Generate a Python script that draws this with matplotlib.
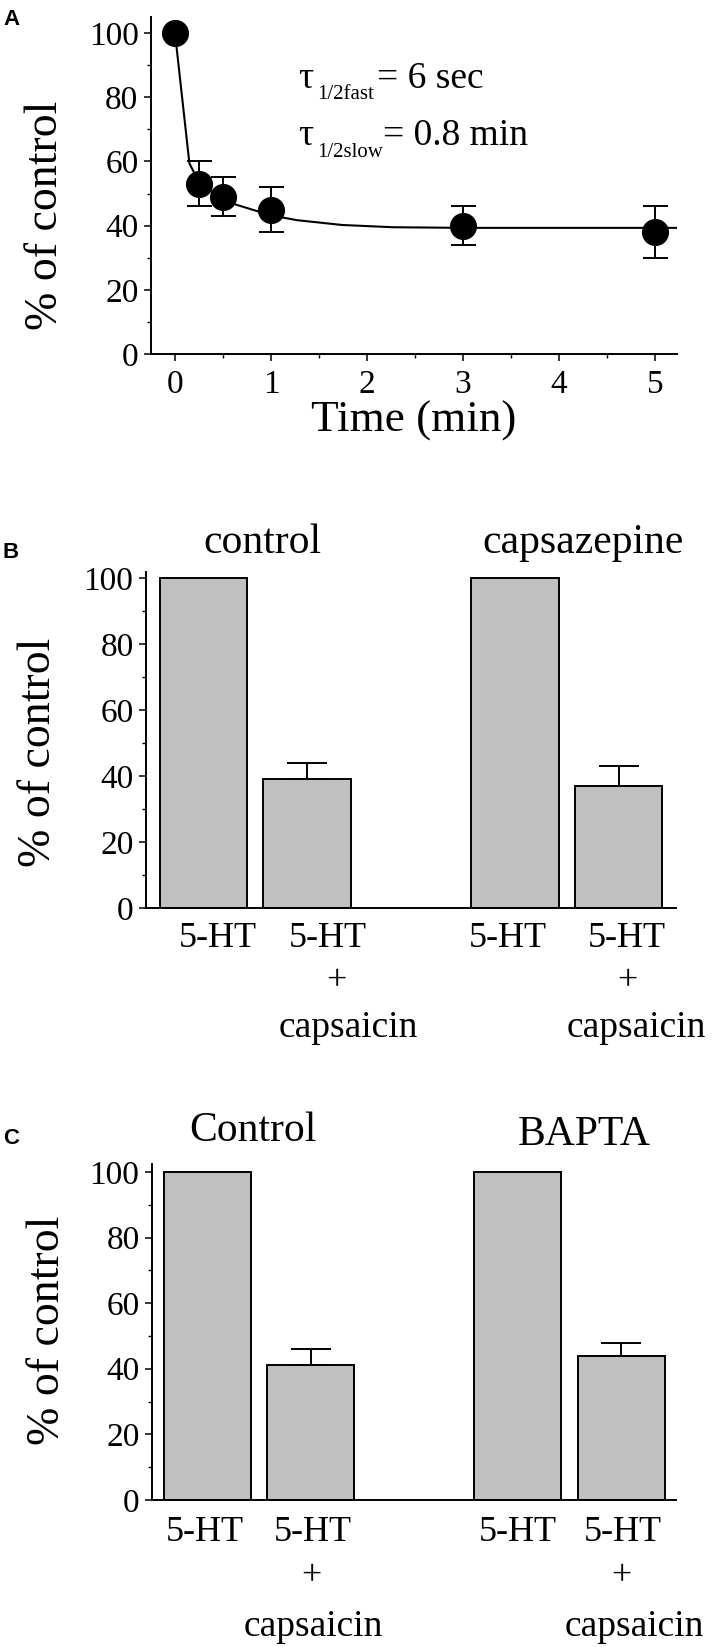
import matplotlib.pyplot as plt
from matplotlib.ticker import MultipleLocator

plt.rcParams['font.family'] = ['Liberation Serif', 'DejaVu Serif']

# ---- panel A: time course ----
time_min = [0, 0.25, 0.5, 1, 3, 5]
resp = [100, 53, 49, 45, 40, 38]
resp_err = [0, 7, 6, 7, 6, 8]
# fitted curve
fit_t = [0, 0.15, 0.25, 0.5, 0.65, 1.0, 1.27, 1.74, 2.27, 3, 4, 5, 5.23]
fit_y = [100, 59.4, 53.5, 48.0, 46.4, 43.2, 41.7, 40.2, 39.5, 39.3, 39.3, 39.3, 39.3]

# ---- panels B and C: bars ----
bar_pos = [0, 1, 3, 4]
b_vals = [100, 39, 100, 37]
b_err = [0, 5, 0, 6]
b_groups = ['control', 'capsazepine']
c_vals = [100, 41, 100, 44]
c_err = [0, 5, 0, 4]
c_groups = ['Control', 'BAPTA']

W, H = 713, 1647
fig = plt.figure(figsize=(W / 100, H / 100), dpi=100)


def px_axes(l, t, r, b):
    return fig.add_axes([l / W, 1 - b / H, (r - l) / W, (b - t) / H])


def style(ax, lab_size):
    for s in ['top', 'right']:
        ax.spines[s].set_visible(False)
    for s in ['left', 'bottom']:
        ax.spines[s].set_linewidth(1.4)
    ax.yaxis.set_major_locator(MultipleLocator(20))
    ax.yaxis.set_minor_locator(MultipleLocator(10))
    ax.tick_params(which='major', direction='out', length=5, width=1.1,
                   labelsize=24, pad=4)
    ax.tick_params(which='minor', direction='out', length=3, width=1.0)
    ax.set_ylabel('% of control', fontsize=lab_size, va='baseline')


# panel A
axA = px_axes(151, 17, 677, 354)
style(axA, 33)
axA.plot(fit_t, fit_y, color='black', lw=1.5, zorder=2)
axA.errorbar(time_min, resp, yerr=resp_err, fmt='o', color='black',
             ms=18.5, capsize=9, elinewidth=1.4, capthick=1.4, zorder=3)
axA.set_xlim(-0.25, 5.23)
axA.set_ylim(0, 105)
axA.xaxis.set_major_locator(MultipleLocator(1))
axA.xaxis.set_minor_locator(MultipleLocator(0.5))
axA.tick_params(axis='x', pad=6)
axA.set_xlabel('Time (min)', fontsize=32.5)
axA.xaxis.set_label_coords(0.5, -0.137)
axA.yaxis.set_label_coords(-0.179, 0.41)

axA.text(1.28, 82.9, '\u03c4', fontsize=27, va='baseline')
axA.text(1.48, 79.4, '1/2fast', fontsize=15, va='baseline')
axA.text(2.10, 82.9, '= 6 sec', fontsize=27, va='baseline')
axA.text(1.28, 65.0, '\u03c4', fontsize=27, va='baseline')
axA.text(1.48, 61.4, '1/2slow', fontsize=15, va='baseline')
axA.text(2.17, 65.0, '= 0.8 min', fontsize=27, va='baseline')


def bar_panel(ax, vals, err, groups, group_x, group_y, ht_x, plus_x, caps_x,
              ys, xlim, ylim):
    ax.bar(bar_pos, vals, width=0.84, color='#c0c0c0', edgecolor='black',
           linewidth=1.4, zorder=2)
    ex = [p for p, e in zip(bar_pos, err) if e > 0]
    ey = [v for v, e in zip(vals, err) if e > 0]
    ee = [e for e in err if e > 0]
    ax.errorbar(ex, ey, yerr=[[0] * len(ee), ee], fmt='none', ecolor='black',
                elinewidth=1.4, capsize=14.4, capthick=1.4, zorder=3)
    ax.set_xlim(*xlim)
    ax.set_ylim(*ylim)
    ax.set_xticks([])
    tr = ax.get_xaxis_transform()
    for g, gx, gy in zip(groups, group_x, group_y):
        ax.text(gx, gy, g, transform=tr, fontsize=30, ha='center',
                va='baseline')
    for x in ht_x:
        ax.text(x, ys[0], '5-HT', transform=tr, fontsize=26, ha='center',
                va='baseline')
    for x in plus_x:
        ax.text(x, ys[1], '+', transform=tr, fontsize=26, ha='center',
                va='center')
    for x in caps_x:
        ax.text(x, ys[2], 'capsaicin', transform=tr, fontsize=27,
                ha='center', va='baseline')


# panel B
axB = px_axes(146, 572, 676, 908)
style(axB, 33)
bar_panel(axB, b_vals, b_err, b_groups, [0.57, 3.66], [1.057, 1.057],
          [0.14, 1.20, 2.93, 4.08], [1.28, 4.08], [1.40, 4.17],
          [-0.116, -0.220, -0.384], (-0.55, 4.55), (0, 101.8))
axB.yaxis.set_label_coords(-0.181, 0.464)

# panel C
axC = px_axes(152, 1164, 676, 1500)
style(axC, 33)
bar_panel(axC, c_vals, c_err, c_groups, [0.44, 3.64], [1.068, 1.057],
          [-0.03, 1.02, 3.0, 4.02], [1.0, 4.0], [1.02, 4.13],
          [-0.123, -0.227, -0.405], (-0.536, 4.53), (0, 102.4))
axC.yaxis.set_label_coords(-0.177, 0.504)

# panel letters
for letter, yb in zip(['A', 'B', 'C'], [25, 558, 1144]):
    fig.text(3 / W, 1 - yb / H, letter, fontsize=16, fontweight='bold',
             family='Liberation Sans', va='baseline')

fig.savefig('out.png', dpi=100)
